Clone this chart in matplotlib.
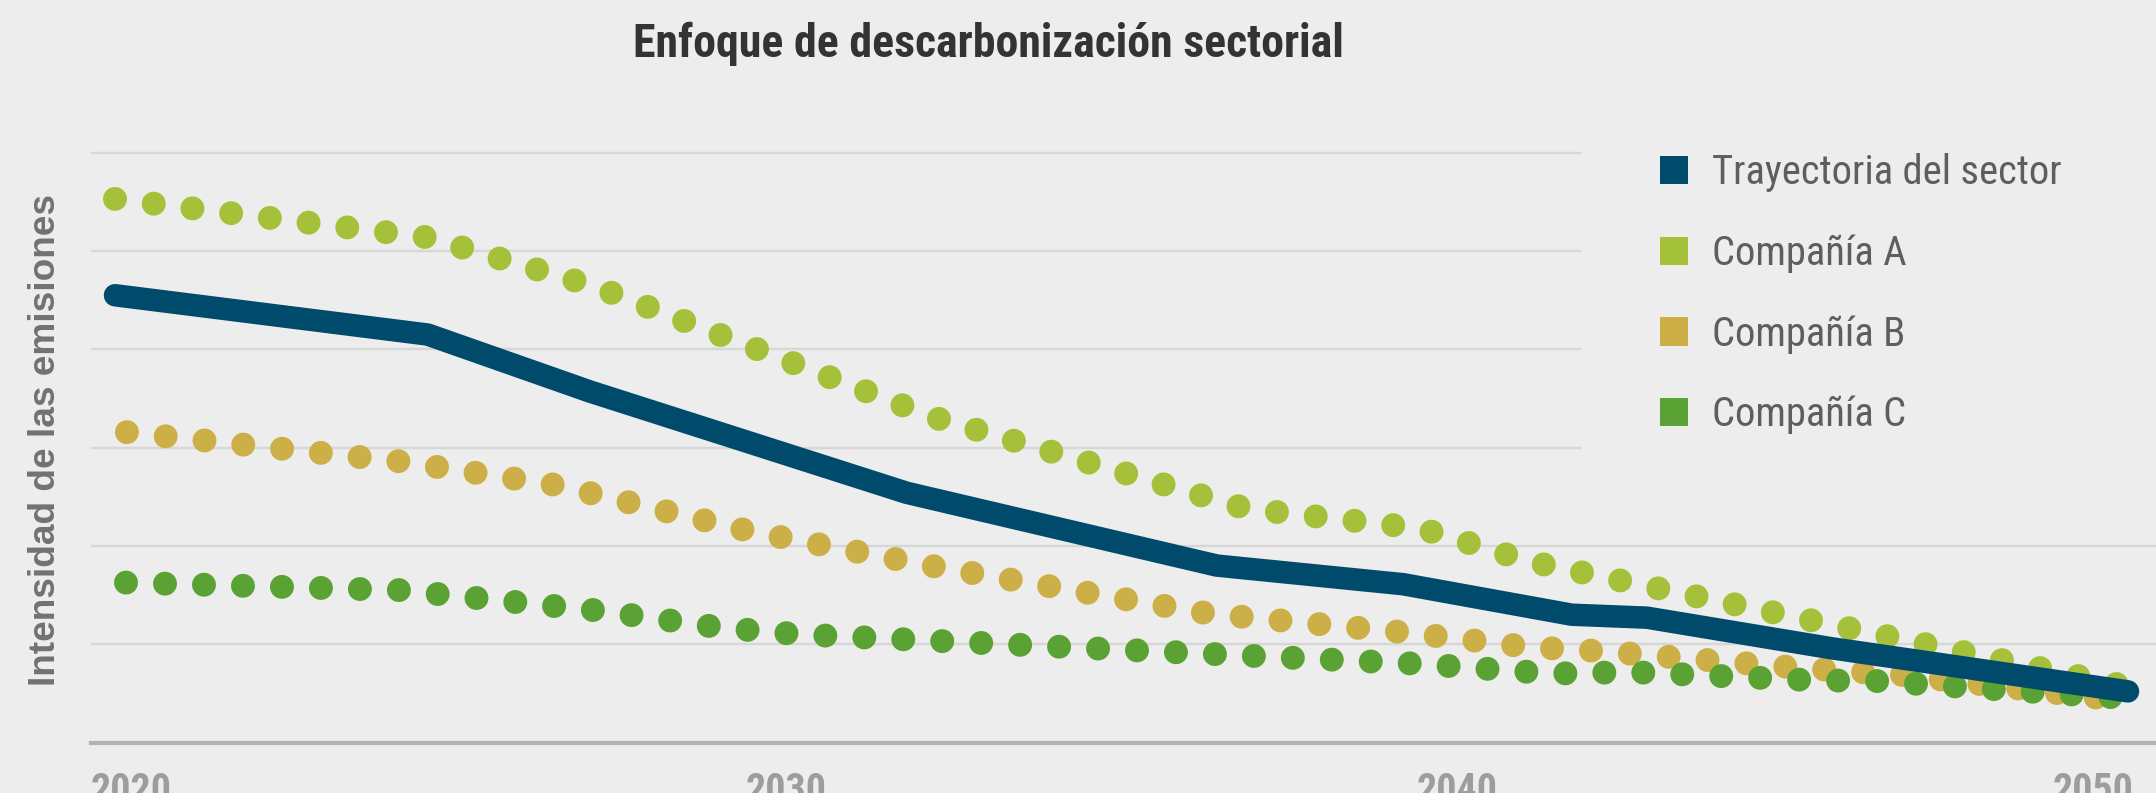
import math
import matplotlib
matplotlib.use("Agg")
import matplotlib.pyplot as plt
from matplotlib import font_manager as fm
from matplotlib.patches import Patch
from matplotlib.transforms import blended_transform_factory

# ---------------- data ----------------
title_text = "Enfoque de descarbonización sectorial"
ylabel_text = "Intensidad de las emisiones"
series_labels = ["Trayectoria del sector", "Compañía A", "Compañía B", "Compañía C"]
tick_years = [2020, 2030, 2040, 2050]

years_sector = [2020.0, 2024.66, 2027.08, 2031.80, 2036.42, 2039.20, 2041.71, 2042.83, 2045.57, 2050.0]
sector = [4.55, 4.15, 3.57, 2.54, 1.80, 1.61, 1.30, 1.27, 0.96, 0.52]

years_a = [2020.0, 2024.65, 2027.15, 2032.19, 2036.86, 2039.45, 2041.09, 2050.0]
company_a = [5.53, 5.14, 4.64, 3.31, 2.38, 2.18, 1.84, 0.57]

years_b = [2020.0, 2024.25, 2026.57, 2029.46, 2032.30, 2036.32, 2039.24, 2041.09, 2042.13, 2045.11, 2046.60, 2050.0]
company_b = [3.17, 2.86, 2.62, 2.15, 1.78, 1.31, 1.12, 0.97, 0.93, 0.76, 0.69, 0.42]

years_c = [2020.0, 2024.25, 2027.23, 2029.02, 2030.21, 2039.45, 2041.24, 2041.83, 2042.50, 2045.41, 2046.16, 2050.0]
company_c = [1.63, 1.55, 1.34, 1.17, 1.10, 0.80, 0.71, 0.70, 0.72, 0.63, 0.63, 0.45]

# ---------------- style ----------------
W, H, DPI = 2156, 793, 100
BG = "#ededed"
C_SECTOR = "#004b6b"
C_A = "#a5c13a"
C_B = "#cdaf47"
C_C = "#59a233"
PX = 72.0 / DPI  # points per pixel


def _wnum(w):
    if isinstance(w, (int, float)):
        return int(w)
    return fm.weight_dict.get(str(w).lower(), 400)


def pick_font(bold):
    order = ["Roboto Condensed", "Noto Sans Condensed", "Open Sans Condensed",
             "Liberation Sans Narrow", "DejaVu Sans Condensed", "Noto Sans",
             "Open Sans", "DejaVu Sans", "Roboto", "Lato", "Inter"]
    best = None
    for f in fm.fontManager.ttflist:
        if f.style != "normal":
            continue
        base = f.fname.split("/")[-1]
        cond = ("Condensed" in f.name or "Narrow" in f.name or "ondensed" in str(f.stretch)
                or "Cond" in base or "Narrow" in base)
        w = _wnum(f.weight)
        if bold and w < 600:
            continue
        if not bold and (w < 350 or w > 500):
            continue
        try:
            fam_rank = order.index(f.name)
        except ValueError:
            fam_rank = len(order)
        key = (0 if cond else 1, fam_rank, abs(w - (700 if bold else 400)))
        if best is None or key < best[0]:
            best = (key, f.fname)
    if best is None:
        return fm.FontProperties(family="DejaVu Sans", weight="bold" if bold else "normal")
    return fm.FontProperties(fname=best[1])


prop_bold = pick_font(True)
prop_reg = pick_font(False)
prop_ylab = fm.FontProperties(family=["Liberation Sans", "DejaVu Sans"], weight="bold")

fig = plt.figure(figsize=(W / DPI, H / DPI), dpi=DPI, facecolor=BG)

# axes geometry in pixels (from top-left)
ax_left_px, ax_right_px = 91.0, 2156.0
base_px, unit_px = 742.5, 98.3
x2020_px, x2050_px = 115.0, 2128.0
ymax = 6.5
top_px = base_px - ymax * unit_px
ax = fig.add_axes([ax_left_px / W, 1 - base_px / H,
                   (ax_right_px - ax_left_px) / W, (base_px - top_px) / H])
ax.set_facecolor("none")
yr_per_px = 30.0 / (x2050_px - x2020_px)
ax.set_xlim(2020 - (x2020_px - ax_left_px) * yr_per_px,
            2050 + (ax_right_px - x2050_px) * yr_per_px)
ax.set_ylim(0, ymax)
ax.axis("off")

# grid lines
grid_short = (1580.0 - ax_left_px) / (ax_right_px - ax_left_px)
for v in range(1, 7):
    ax.axhline(v, xmin=0, xmax=1.0 if v <= 2 else grid_short,
               color="#d7d7d7", lw=2.4 * PX, zorder=1)
ax.axhline(0, color="#b3b3b7", lw=4.2 * PX, zorder=1, clip_on=False)

# dotted company lines
dot_lw_px = 24.0
period = 39.0 / dot_lw_px
dot_lw = dot_lw_px * PX
for xs, ys, col, off_px, z in [(years_a, company_a, C_A, 0.0, 3),
                               (years_b, company_b, C_B, 12.0, 3),
                               (years_c, company_c, C_C, 11.0, 4)]:
    off = (period - off_px / dot_lw_px) % period
    ax.plot(xs, ys, color=col, lw=dot_lw,
            linestyle=(off, (0.001, period - 0.001)),
            dash_capstyle="round", zorder=z, clip_on=False)

# sector trajectory
ax.plot(years_sector, sector, color=C_SECTOR, lw=22.5 * PX,
        solid_capstyle="round", solid_joinstyle="round", zorder=5, clip_on=False)

fig.canvas.draw()
r = fig.canvas.get_renderer()


def measure(s, prop, size):
    p = prop.copy()
    p.set_size(size)
    w, h, d = r.get_text_width_height_descent(s, p, ismath=False)
    return w, h - d


def fit(s, prop, target_w, target_cap=None, cap_char="H", wt=0.8):
    sw = 20.0 * target_w / measure(s, prop, 20.0)[0]
    if target_cap is None:
        return sw
    sh = 20.0 * target_cap / measure(cap_char, prop, 20.0)[1]
    return math.exp(wt * math.log(sw) + (1 - wt) * math.log(sh))


# title
p_title = prop_bold.copy()
p_title.set_size(fit(title_text, prop_bold, 733.0, 27.5, "E", 0.85))
fig.text(988.0 / W, 1 - 57.5 / H, title_text, fontproperties=p_title,
         color="#333333", ha="center", va="baseline")

# y label
p_ylab = prop_ylab.copy()
p_ylab.set_size(fit(ylabel_text, prop_ylab, 495.0, 24.0, "I", 0.85))
fig.text(46.0 / W, 1 - 440.0 / H, ylabel_text, fontproperties=p_ylab,
         color="#727272", rotation=90, ha="center", va="center")

# x tick labels
p_tick = prop_bold.copy()
p_tick.set_size(fit("2020", prop_bold, 81.0))
digit_h = measure("2020", p_tick, p_tick.get_size())[1]
tick_y = 1 - (773.0 + digit_h) / H
btr_data = blended_transform_factory(ax.transData, fig.transFigure)
btr_axes = blended_transform_factory(ax.transAxes, fig.transFigure)
right_edge = (2133.0 - ax_left_px) / (ax_right_px - ax_left_px)
for yr in tick_years:
    if yr == tick_years[0]:
        ax.text(0.0, tick_y, str(yr), transform=btr_axes, fontproperties=p_tick,
                color="#9d9d9d", ha="left", va="baseline", clip_on=False)
    elif yr == tick_years[-1]:
        ax.text(right_edge, tick_y, str(yr), transform=btr_axes, fontproperties=p_tick,
                color="#9d9d9d", ha="right", va="baseline", clip_on=False)
    else:
        ax.text(yr, tick_y, str(yr), transform=btr_data, fontproperties=p_tick,
                color="#9d9d9d", ha="center", va="baseline", clip_on=False)

# legend
p_leg = prop_reg.copy()
p_leg.set_size(fit(series_labels[0], prop_reg, 355.0, 26.5, "T", 0.85))
fs_px = p_leg.get_size() / PX
sq = 28.0
colors = [C_SECTOR, C_A, C_B, C_C]
want_left, want_top, want_pitch = 1659.5, 156.0, 80.7


def make_legend(anchor, ls):
    handles = [Patch(facecolor=c, edgecolor="none") for c in colors]
    lg = fig.legend(handles, series_labels, loc="upper left", bbox_to_anchor=anchor,
                    bbox_transform=fig.transFigure, frameon=False, prop=p_leg,
                    handlelength=sq / fs_px, handleheight=sq / fs_px,
                    handletextpad=24.0 / fs_px, labelspacing=ls,
                    borderpad=0, borderaxespad=0)
    for t in lg.get_texts():
        t.set_color("#5e5e5e")
    return lg


anchor = [want_left / W, 1 - want_top / H]
ls = 1.0
leg = make_legend(tuple(anchor), ls)
for _ in range(3):
    fig.canvas.draw()
    ps = leg.get_patches()
    b0 = ps[0].get_window_extent(r)
    b3 = ps[-1].get_window_extent(r)
    pitch = (b0.y0 - b3.y0) / 3.0
    dx = want_left - b0.x0
    dy = (H - want_top) - b0.y1
    anchor[0] += dx / W
    anchor[1] += dy / H
    ls += (want_pitch - pitch) / fs_px
    leg.remove()
    leg = make_legend(tuple(anchor), ls)

fig.savefig("out.png", dpi=DPI, facecolor=BG)
